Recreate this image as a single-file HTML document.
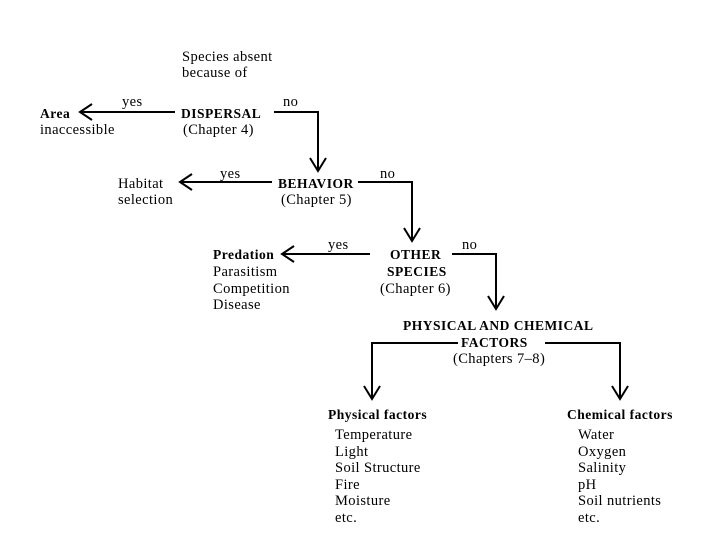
<!DOCTYPE html>
<html><head><meta charset="utf-8"><style>
html,body{margin:0;padding:0;background:#fff;}
svg{display:block;}
text{font-family:"Liberation Serif",serif;font-size:14.5px;letter-spacing:0.4px;fill:#000;}
.b{font-weight:bold;font-size:13.5px;letter-spacing:0.5px;}
</style></head><body>
<svg width="720" height="540" viewBox="0 0 720 540" xmlns="http://www.w3.org/2000/svg">
<g stroke="#000" stroke-width="2" fill="none">
<path d="M175 112H80"/><path d="M92 104L80 112L92 120"/>
<path d="M274 112H318V170"/><path d="M310 158L318 171L326 158"/>
<path d="M272 182H180"/><path d="M192 174L180 182L192 190"/>
<path d="M358 182H412V240"/><path d="M404 228L412 241L420 228"/>
<path d="M370 254H282"/><path d="M294 246L282 254L294 262"/>
<path d="M452 254H496V308"/><path d="M488 296L496 309L504 296"/>
<path d="M458 343H372V398"/><path d="M364 386L372 399L380 386"/>
<path d="M545 343H620V398"/><path d="M612 386L620 399L628 386"/>
</g>
<text x="182" y="61">Species absent</text>
<text x="182" y="77">because of</text>
<text x="122" y="106">yes</text>
<text x="283" y="106">no</text>
<text class="b" x="40" y="118">Area</text>
<text x="40" y="134">inaccessible</text>
<text class="b" x="181" y="118">DISPERSAL</text>
<text x="183" y="134">(Chapter 4)</text>
<text x="220" y="178">yes</text>
<text x="380" y="178">no</text>
<text x="118" y="188">Habitat</text>
<text x="118" y="204">selection</text>
<text class="b" x="278" y="188">BEHAVIOR</text>
<text x="281" y="204">(Chapter 5)</text>
<text x="328" y="249">yes</text>
<text x="462" y="249">no</text>
<text class="b" x="213" y="259">Predation</text>
<text x="213" y="276">Parasitism</text>
<text x="213" y="293">Competition</text>
<text x="213" y="309">Disease</text>
<text class="b" x="390" y="259">OTHER</text>
<text class="b" x="387" y="276">SPECIES</text>
<text x="380" y="293">(Chapter 6)</text>
<text class="b" x="403" y="330">PHYSICAL AND CHEMICAL</text>
<text class="b" x="461" y="347">FACTORS</text>
<text x="453" y="363">(Chapters 7–8)</text>
<text class="b" x="328" y="419">Physical factors</text>
<text x="335" y="439">Temperature</text>
<text x="335" y="456">Light</text>
<text x="335" y="472">Soil Structure</text>
<text x="335" y="489">Fire</text>
<text x="335" y="505">Moisture</text>
<text x="335" y="522">etc.</text>
<text class="b" x="567" y="419">Chemical factors</text>
<text x="578" y="439">Water</text>
<text x="578" y="456">Oxygen</text>
<text x="578" y="472">Salinity</text>
<text x="578" y="489">pH</text>
<text x="578" y="505">Soil nutrients</text>
<text x="578" y="522">etc.</text>
</svg>
</body></html>
